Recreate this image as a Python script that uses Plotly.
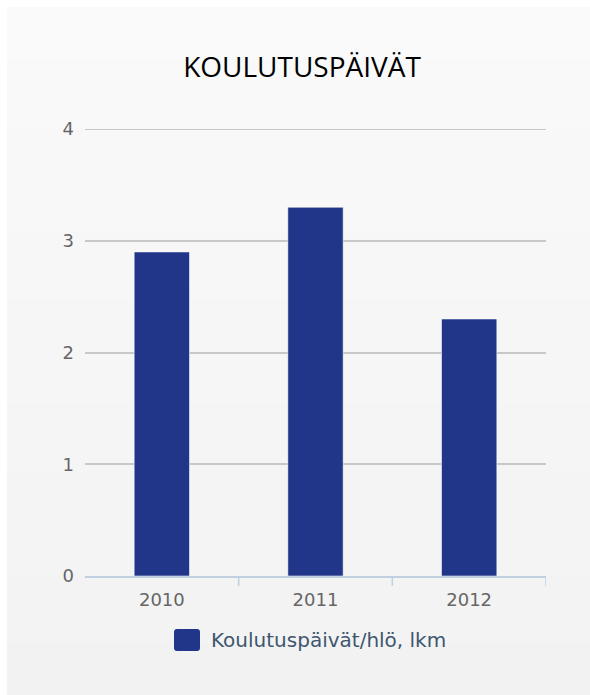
import plotly.graph_objects as go

# Data
years = ["2010", "2011", "2012"]
days_per_person = [2.9, 3.3, 2.3]
y_ticks = [0, 1, 2, 3, 4]
series_name = "Koulutuspäivät/hlö, lkm"
title_text = "KOULUTUSPÄIVÄT"

W, H = 590, 695
L, R, T, B = 85, 44, 129, 119
plot_w = W - L - R
plot_h = H - T - B

BAR = "#213589"
AXIS = "#C0D0E0"
GRID = "#C8C8C8"


def px_x(p):
    return (p - L) / plot_w


def px_y(p):
    return (H - B - p) / plot_h


fig = go.Figure()
fig.add_trace(go.Bar(
    x=years, y=days_per_person, name=series_name,
    marker=dict(color=BAR, line=dict(color="rgba(255,255,255,0.55)", width=1)),
    width=0.36, showlegend=False,
))

shapes = []
# soft vertical gradient panel behind the chart
top, bottom, left = 7, H, 7
n = 40
c0, c1 = (250, 250, 250), (242, 242, 242)
for i in range(n):
    y0 = top + (bottom - top) * i / n
    y1 = top + (bottom - top) * (i + 1) / n
    t = (i + 0.5) / n
    col = tuple(round(a + (b - a) * t) for a, b in zip(c0, c1))
    shapes.append(dict(
        type="rect", xref="paper", yref="paper", layer="below",
        x0=px_x(left), x1=px_x(W + 2), y0=px_y(y1 + 0.5), y1=px_y(y0),
        fillcolor="rgb(%d,%d,%d)" % col, line=dict(width=0),
    ))

# top grid line at the upper end of the value axis
shapes.append(dict(
    type="line", xref="paper", yref="y", layer="below",
    x0=0, x1=1, y0=y_ticks[-1], y1=y_ticks[-1],
    line=dict(color=GRID, width=2),
))

# category boundary ticks below the x axis
for k in range(len(years)):
    shapes.append(dict(
        type="line", xref="x", yref="paper",
        x0=k + 0.5, x1=k + 0.5, y0=px_y(H - B + 1), y1=px_y(H - B + 10),
        line=dict(color=AXIS, width=1.5),
    ))

# legend symbol: rounded square
sx0, sx1, sy0, sy1, r = 174, 200, 629, 651, 3
path = (
    f"M {px_x(sx0 + r)},{px_y(sy0)} L {px_x(sx1 - r)},{px_y(sy0)} "
    f"Q {px_x(sx1)},{px_y(sy0)} {px_x(sx1)},{px_y(sy0 + r)} "
    f"L {px_x(sx1)},{px_y(sy1 - r)} Q {px_x(sx1)},{px_y(sy1)} {px_x(sx1 - r)},{px_y(sy1)} "
    f"L {px_x(sx0 + r)},{px_y(sy1)} Q {px_x(sx0)},{px_y(sy1)} {px_x(sx0)},{px_y(sy1 - r)} "
    f"L {px_x(sx0)},{px_y(sy0 + r)} Q {px_x(sx0)},{px_y(sy0)} {px_x(sx0 + r)},{px_y(sy0)} Z"
)
shapes.append(dict(type="path", xref="paper", yref="paper", path=path,
                   fillcolor=BAR, line=dict(width=0)))

annotations = [dict(
    text=series_name, xref="paper", yref="paper",
    x=px_x(209), y=px_y(640), xanchor="left", yanchor="middle",
    showarrow=False, font=dict(family="DejaVu Sans", size=20, color="#3E576F"),
)]

fig.update_layout(
    width=W, height=H,
    margin=dict(l=L, r=R, t=T, b=B, pad=0),
    paper_bgcolor="white", plot_bgcolor="rgba(0,0,0,0)",
    title=dict(text=title_text, x=302 / W, xref="container", xanchor="center",
               y=1 - 67 / H, yref="container", yanchor="middle",
               font=dict(family="Open Sans", size=28, color="#000000")),
    shapes=shapes, annotations=annotations,
    showlegend=False, bargap=0.64,
    font=dict(family="DejaVu Sans", color="#666666"),
)
fig.update_xaxes(
    type="category", range=[-0.5, 2.5], showgrid=False,
    showline=True, linecolor=AXIS, linewidth=2, ticks="",
    tickfont=dict(family="DejaVu Sans", size=18, color="#666666"),
    ticklabelstandoff=6, fixedrange=True,
)
fig.update_yaxes(
    range=[0, 4], tickvals=y_ticks, showgrid=True, gridcolor=GRID, gridwidth=2,
    zeroline=False, showline=False, ticks="",
    tickfont=dict(family="DejaVu Sans", size=18, color="#666666"),
    ticklabelstandoff=10, fixedrange=True,
)

fig.write_html("out.html")
